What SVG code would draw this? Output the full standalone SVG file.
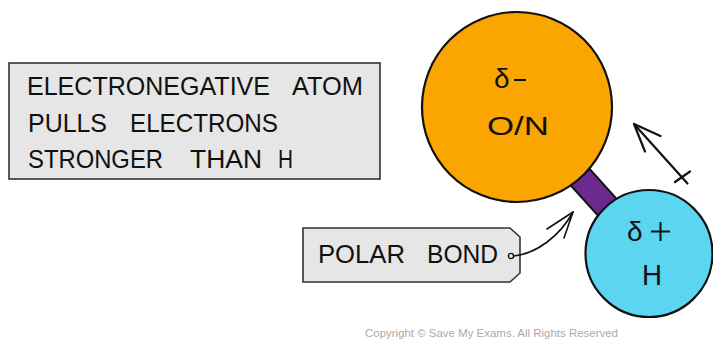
<svg xmlns="http://www.w3.org/2000/svg" width="713" height="339" viewBox="0 0 713 339">
<style>
.lbl{font-family:"Liberation Sans",Arial,sans-serif;fill:#111;}
.ln{fill:none;stroke:#111;stroke-linecap:round;stroke-linejoin:round;}
</style>
<rect width="713" height="339" fill="#ffffff"/>
<g id="info-box">
<rect x="9" y="63" width="371" height="116" fill="#e6e6e6" stroke="#333" stroke-width="1.6"/>
<g class="lbl" font-size="25">
<text x="27" y="95" textLength="243" lengthAdjust="spacingAndGlyphs">ELECTRONEGATIVE</text>
<text x="292" y="95" textLength="71" lengthAdjust="spacingAndGlyphs">ATOM</text>
<text x="28" y="131.5" textLength="79" lengthAdjust="spacingAndGlyphs">PULLS</text>
<text x="130" y="131.5" textLength="148" lengthAdjust="spacingAndGlyphs">ELECTRONS</text>
<text x="28" y="168" textLength="135" lengthAdjust="spacingAndGlyphs">STRONGER</text>
<text x="190" y="168" textLength="72" lengthAdjust="spacingAndGlyphs">THAN</text>
<text x="278" y="168" textLength="15" lengthAdjust="spacingAndGlyphs">H</text>
</g>
</g>
<g id="bond">
<polygon points="507.7,115.4 526.3,98.6 658.3,245.1 639.7,261.9" fill="#6b2a90" stroke="#111" stroke-width="2"/>
</g>
<g id="atom-on">
<circle cx="517" cy="107" r="95" fill="#fba500" stroke="#111" stroke-width="2.2"/>
<text class="lbl" x="494" y="88" font-size="28">δ</text>
<line x1="514" y1="80" x2="526" y2="80" stroke="#111" stroke-width="2"/>
<text class="lbl" x="487" y="135" font-size="26" textLength="62" lengthAdjust="spacingAndGlyphs">O/N</text>
</g>
<g id="atom-h">
<circle cx="649" cy="253.5" r="63.5" fill="#5bd5f0" stroke="#111" stroke-width="2.2"/>
<text class="lbl" x="627" y="241" font-size="28">δ</text>
<line x1="651" y1="231.5" x2="670" y2="231.5" stroke="#111" stroke-width="2"/>
<line x1="660.5" y1="222" x2="660.5" y2="241" stroke="#111" stroke-width="2"/>
<text class="lbl" x="642" y="285" font-size="30" textLength="20" lengthAdjust="spacingAndGlyphs">H</text>
</g>
<g id="polar-bond-tag">
<path d="M303,228 L510,228 L520,237 L520,273 L510,282 L303,282 Z" fill="#e6e6e6" stroke="#333" stroke-width="1.6"/>
<g class="lbl" font-size="25">
<text x="318" y="263" textLength="87" lengthAdjust="spacingAndGlyphs">POLAR</text>
<text x="427" y="263" textLength="71" lengthAdjust="spacingAndGlyphs">BOND</text>
</g>
<circle cx="511" cy="256" r="2.6" fill="#e6e6e6" stroke="#111" stroke-width="1.4"/>
</g>
<g id="connectors">
<path class="ln" stroke-width="1.6" d="M513.6,256 C536,254 560,236 573,212"/>
<path class="ln" stroke-width="1.6" d="M547,229 L573,212 L564,238"/>
<line class="ln" stroke-width="2.2" x1="634" y1="124" x2="687.5" y2="183.5"/>
<path class="ln" stroke-width="2.2" d="M660.5,136 L634,124 L645,151.5"/>
<line class="ln" stroke-width="2.2" x1="675" y1="182" x2="690" y2="171.5"/>
</g>
<text x="365" y="337" font-family="'Liberation Sans',Arial,sans-serif" font-size="11.5" fill="#aaaaaa" textLength="253" lengthAdjust="spacingAndGlyphs">Copyright © Save My Exams. All Rights Reserved</text>
</svg>
